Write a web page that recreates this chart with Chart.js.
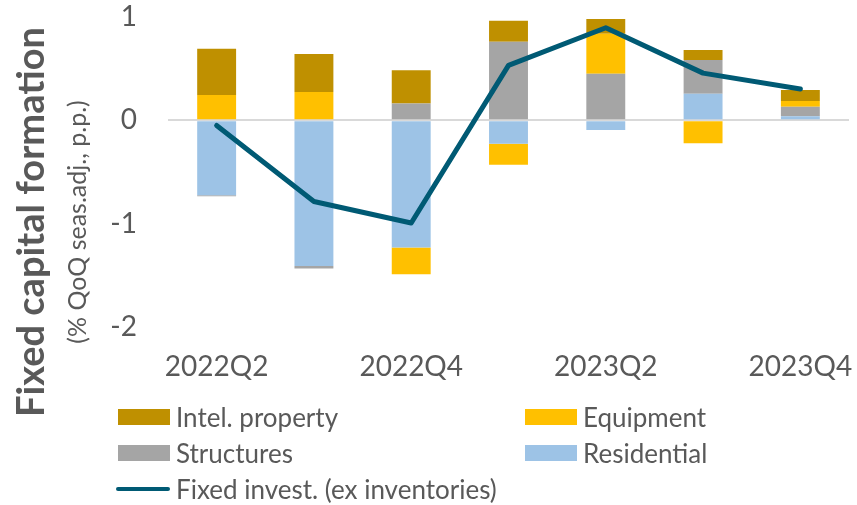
<!DOCTYPE html>
<html>
<head>
<meta charset="utf-8">
<script src="https://cdn.jsdelivr.net/npm/chart.js@4"></script>
<style>
  html, body { margin: 0; padding: 0; background: #fff; }
  #wrap { position: relative; width: 857px; height: 505px; font-family: Lato, sans-serif; color: #595959; }
  #chart { position: absolute; left: 0; top: 0; }
  .lg { position: absolute; display: flex; align-items: center; font-size: 26px; white-space: nowrap; }
  .lg .box { width: 52px; height: 16px; margin-right: 6px; }
  .lg .ln { width: 54px; height: 4px; border-radius: 2px; margin-right: 6px; }
</style>
</head>
<body>
<div id="wrap">
  <canvas id="chart" width="857" height="505"></canvas>
  <div id="legend"></div>
</div>
<script>
// данные
const quarters = ['2022Q2', '2022Q3', '2022Q4', '2023Q1', '2023Q2', '2023Q3', '2023Q4'];
const residential = [-0.725, -1.41, -1.23, -0.226, -0.094, 0.258, 0.039];
const structures  = [-0.01, -0.025, 0.164, 0.761, 0.451, 0.325, 0.093];
const equipment   = [0.245, 0.274, -0.26, -0.203, 0.387, -0.222, 0.055];
const intelProp   = [0.448, 0.367, 0.32, 0.203, 0.142, 0.097, 0.106];
const fixedInvest = [-0.05, -0.786, -0.993, 0.532, 0.896, 0.457, 0.303];
const yTicks = [1, 0, -1, -2];

const textColor = '#595959';
const colors = {
    intel: '#bf9000',
    equipment: '#ffc000',
    structures: '#a5a5a5',
    residential: '#9dc3e6',
    line: '#005a74'
};

function barSet(label, data, color) {
    return {
        type: 'bar',
        label: label,
        data: data,
        backgroundColor: color,
        borderWidth: 0,
        categoryPercentage: 1,
        barPercentage: 0.4,
        stack: 'bars',
        order: 1
    };
}

// подписи оси Y (две строки разными шрифтами)
const yTitlePlugin = {
    id: 'yTitles',
    afterDraw(chart) {
        const ctx = chart.ctx;
        ctx.save();
        ctx.fillStyle = textColor;
        ctx.textAlign = 'center';
        ctx.textBaseline = 'middle';
        ctx.translate(32, 222);
        ctx.rotate(-Math.PI / 2);
        ctx.font = 'bold 38px Lato';
        ctx.fillText('Fixed capital formation', 0, 0);
        ctx.font = '25px Lato';
        ctx.fillText('(% QoQ seas.adj., p.p.)', 0, 46);
        ctx.restore();
    }
};

new Chart(document.getElementById('chart'), {
    data: {
        labels: quarters,
        datasets: [
            {
                type: 'line',
                label: 'Fixed invest. (ex inventories)',
                data: fixedInvest,
                borderColor: colors.line,
                borderWidth: 5,
                borderCapStyle: 'round',
                borderJoinStyle: 'round',
                pointRadius: 0,
                tension: 0,
                fill: false,
                stack: 'line',
                order: 0
            },
            barSet('Residential', residential, colors.residential),
            barSet('Structures', structures, colors.structures),
            barSet('Equipment', equipment, colors.equipment),
            barSet('Intel. property', intelProp, colors.intel)
        ]
    },
    options: {
        responsive: false,
        animation: false,
        // снизу место под HTML-легенду
        layout: { padding: { top: 17, right: 8, left: 0, bottom: 115 } },
        plugins: {
            legend: { display: false },
            tooltip: { enabled: false }
        },
        scales: {
            x: {
                stacked: true,
                grid: { display: false },
                border: { display: false },
                afterFit(scale) {
                    scale.height = 63;
                    scale.paddingLeft = 0;
                    scale.paddingRight = 0;
                },
                ticks: {
                    autoSkip: false,
                    maxRotation: 0,
                    padding: 15,
                    color: textColor,
                    font: { family: 'Lato', size: 28 },
                    callback(v, i) { return i % 2 === 0 ? quarters[i] : ''; }
                }
            },
            y: {
                stacked: true,
                min: -2,
                max: 1,
                afterFit(scale) {
                    scale.width = 168;
                    scale.paddingTop = 0;
                    scale.paddingBottom = 0;
                },
                afterBuildTicks(scale) { scale.ticks = yTicks.map(v => ({ value: v })); },
                border: { display: false },
                grid: {
                    drawTicks: false,
                    lineWidth: 2,
                    color: c => (c.tick && c.tick.value === 0) ? '#d9d9d9' : 'rgba(0,0,0,0)'
                },
                ticks: {
                    padding: 31,
                    color: textColor,
                    font: { family: 'Lato', size: 28 }
                }
            }
        }
    },
    plugins: [yTitlePlugin]
});

// легенда в две колонки
const legendItems = [
    { text: 'Intel. property', color: colors.intel, x: 118, y: 417 },
    { text: 'Equipment', color: colors.equipment, x: 525, y: 417 },
    { text: 'Structures', color: colors.structures, x: 118, y: 453 },
    { text: 'Residential', color: colors.residential, x: 525, y: 453 },
    { text: 'Fixed invest. (ex inventories)', color: colors.line, x: 116, y: 489, line: true }
];
const legendEl = document.getElementById('legend');
legendItems.forEach(it => {
    const row = document.createElement('div');
    row.className = 'lg';
    row.style.left = it.x + 'px';
    row.style.top = (it.y - 16) + 'px';
    row.style.height = '32px';
    const mark = document.createElement('span');
    mark.className = it.line ? 'ln' : 'box';
    mark.style.background = it.color;
    const txt = document.createElement('span');
    txt.textContent = it.text;
    row.appendChild(mark);
    row.appendChild(txt);
    legendEl.appendChild(row);
});
</script>
</body>
</html>
